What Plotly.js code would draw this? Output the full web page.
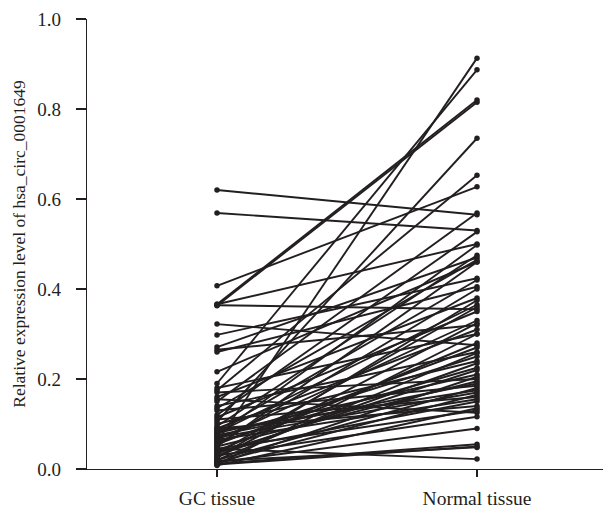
<!DOCTYPE html>
<html>
<head>
<meta charset="utf-8">
<script src="https://cdn.plot.ly/plotly-3.0.1.min.js"></script>
<style>html,body{margin:0;padding:0;background:#fff;}</style>
</head>
<body>
<div id="chart" style="width:603px;height:509px;"></div>
<script>
var categories = ["GC tissue", "Normal tissue"];
var gcValues = [0.620,0.569,0.407,0.366,0.363,0.366,0.364,0.322,0.298,0.271,0.265,0.260,0.216,0.190,0.180,0.175,0.170,0.160,0.155,0.150,0.140,0.135,0.130,0.120,0.115,0.110,0.105,0.100,0.095,0.090,0.090,0.085,0.080,0.080,0.075,0.070,0.070,0.065,0.060,0.060,0.055,0.050,0.050,0.045,0.040,0.040,0.035,0.030,0.030,0.025,0.020,0.020,0.015,0.012,0.010,0.010,0.008,0.015,0.025,0.035,0.045,0.055,0.065,0.075,0.085,0.012,0.018];
var normalValues = [0.565,0.530,0.627,0.820,0.815,0.500,0.355,0.275,0.424,0.470,0.320,0.405,0.460,0.887,0.300,0.653,0.200,0.380,0.125,0.569,0.260,0.465,0.185,0.527,0.350,0.160,0.735,0.240,0.475,0.310,0.140,0.420,0.210,0.365,0.498,0.250,0.170,0.330,0.913,0.225,0.400,0.195,0.460,0.022,0.280,0.150,0.360,0.235,0.116,0.324,0.258,0.180,0.090,0.205,0.050,0.300,0.135,0.165,0.375,0.220,0.130,0.270,0.155,0.190,0.175,0.055,0.048];
var yTickVals = [0, 0.2, 0.4, 0.6, 0.8, 1.0];
var yTitle = "Relative expression level of hsa_circ_0001649";

var xs = [], ys = [];
for (var i = 0; i < gcValues.length; i++) {
  xs.push(0, 1, null);
  ys.push(gcValues[i], normalValues[i], null);
}
var ink = '#231f20';
var trace = {
  x: xs, y: ys, type: 'scatter', mode: 'lines+markers',
  connectgaps: false, cliponaxis: false,
  line: {color: ink, width: 1.9},
  marker: {color: ink, size: 5.5},
  hoverinfo: 'skip', showlegend: false
};
var fontFam = '"Liberation Serif", "DejaVu Serif", serif';
var layout = {
  width: 603, height: 509,
  margin: {l: 87, r: 0, t: 19, b: 40},
  paper_bgcolor: '#fff', plot_bgcolor: '#fff',
  font: {family: fontFam, size: 18, color: ink},
  xaxis: {
    range: [-0.5, 1.4846], tickvals: [0, 1], ticktext: categories,
    showline: true, linecolor: ink, linewidth: 1.2,
    ticks: 'outside', ticklen: 7, tickwidth: 1.5, tickcolor: ink,
    ticklabelstandoff: 4,
    showgrid: false, zeroline: false,
    tickfont: {family: fontFam, size: 19.5, color: ink}
  },
  yaxis: {
    range: [0, 1], tickvals: yTickVals, tickformat: '.1f',
    showline: true, linecolor: ink, linewidth: 1.2,
    ticks: 'outside', ticklen: 10, tickwidth: 1.5, tickcolor: ink,
    ticklabelstandoff: 11,
    showgrid: false, zeroline: false,
    tickfont: {family: fontFam, size: 19, color: ink},
    title: {text: yTitle, font: {family: fontFam, size: 17.5, color: ink}, standoff: 7}
  }
};
Plotly.newPlot('chart', [trace], layout, {displayModeBar: false, staticPlot: true});
</script>
</body>
</html>
